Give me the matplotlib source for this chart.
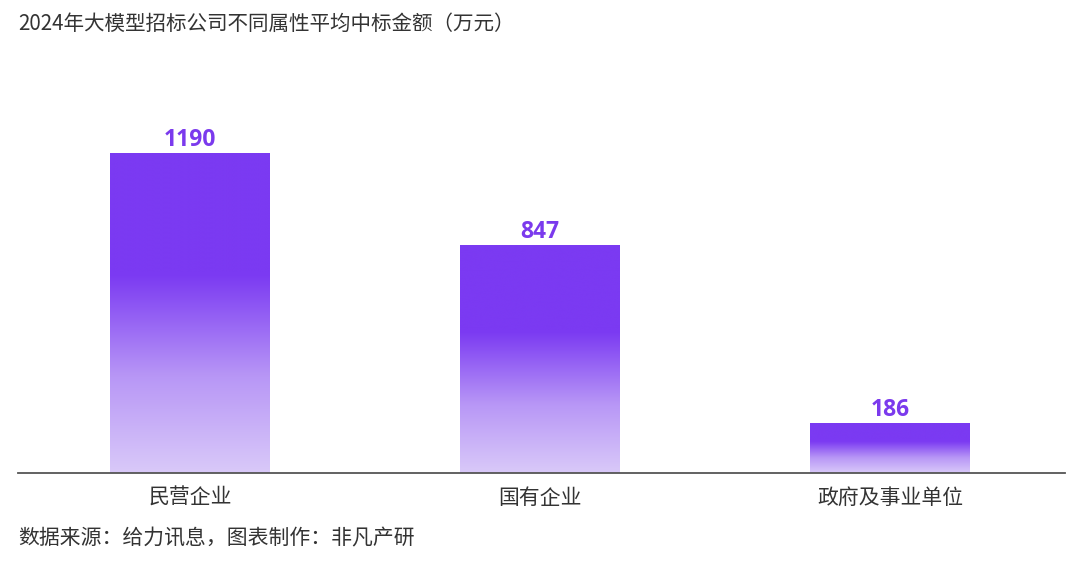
import numpy as np
import matplotlib
matplotlib.use("Agg")
import matplotlib.pyplot as plt
from matplotlib.colors import LinearSegmentedColormap

plt.rcParams['font.family'] = ['Noto Sans CJK SC', 'DejaVu Sans']

categories = ["民营企业", "国有企业", "政府及事业单位"]
values = [1190, 847, 186]
title = "2024年大模型招标公司不同属性平均中标金额（万元）"
source = "数据来源：给力讯息，图表制作：非凡产研"

top_color = "#7B3AF2"
bottom_color = "#D9C9F9"
label_color = "#7B3AED"

fig = plt.figure(figsize=(10.8, 5.63), dpi=100)
ax = fig.add_axes([18/1080, (563-473)/563, (1065-18)/1080, (473-60)/563])

x = np.arange(len(categories))
bars = ax.bar(x, values, width=0.457, color="none", edgecolor="none", zorder=2)

cmap = LinearSegmentedColormap.from_list(
    "grad", [(0.0, bottom_color), (0.3, "#B897F6"), (0.62, top_color), (1.0, top_color)])
grad = np.linspace(0, 1, 256).reshape(-1, 1)
for b in bars:
    x0, w, h = b.get_x(), b.get_width(), b.get_height()
    im = ax.imshow(grad, cmap=cmap, aspect="auto", origin="lower",
                   extent=[x0, x0 + w, 0, h], zorder=2, interpolation="bicubic")
    im.set_clip_path(b)

for xi, v in zip(x, values):
    ax.text(xi, v + 4, f"{v}", ha="center", va="bottom", fontsize=16.5,
            fontweight="bold", color=label_color, family=["Open Sans", "DejaVu Sans"])

ax.set_xlim(-0.491, 2.5)
ax.set_ylim(0, 1536)
for s in ["top", "right", "left"]:
    ax.spines[s].set_visible(False)
ax.spines["bottom"].set_color("#555555")
ax.spines["bottom"].set_linewidth(1.3)
ax.set_yticks([])
ax.set_xticks(x)
ax.set_xticklabels(categories, fontsize=15, color="#333333")
ax.tick_params(axis="x", length=0, pad=10)

fig.text(18/1080, 1 - 24/563, title, fontsize=14.8, color="#333333", ha="left", va="center")
fig.text(18/1080, 1 - 538/563, source, fontsize=15, color="#333333", ha="left", va="center")

fig.savefig("out.png", dpi=100, facecolor="white")
